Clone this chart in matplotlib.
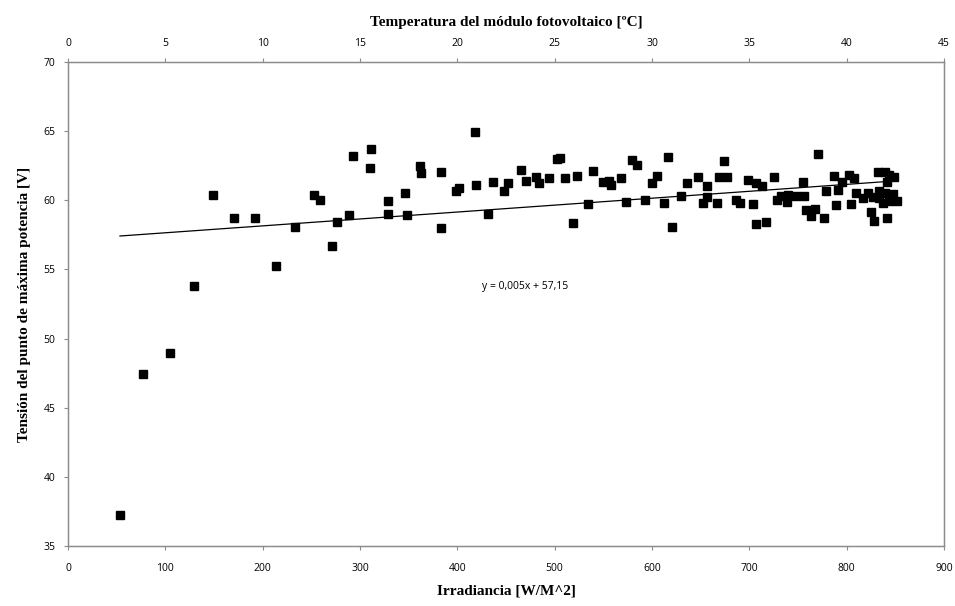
import matplotlib
matplotlib.use("Agg")
import matplotlib.pyplot as plt
import numpy as np

# Irradiancia [W/m^2] y tensión en el punto de máxima potencia [V]
irradiancia = [
    53.4, 77.3, 104.7, 129.1, 148.6, 170.4, 192.0, 213.6, 232.8, 252.6,
    258.4, 271.0, 276.2, 289.2, 292.9, 311.4, 310.1, 328.5, 328.5, 346.0,
    348.0, 361.4, 363.1, 383.3, 383.3, 399.1, 401.4, 417.9, 418.9, 431.5,
    436.7, 448.4, 452.5, 465.1, 470.5, 481.2, 483.9, 494.2, 502.8, 505.4,
    510.6, 518.5, 522.6, 534.2, 539.3, 549.6, 555.7, 557.8, 568.1, 573.6,
    579.1, 584.2, 592.4, 599.9, 604.7, 612.2, 616.3, 620.8, 629.7, 635.8,
    647.5, 652.3, 656.4, 656.4, 667.1, 669.1, 673.5, 676.9, 686.6, 689.9,
    698.2, 703.6, 707.1, 707.1, 712.5, 716.9, 725.6, 728.9, 732.3, 738.5,
    740.2, 747.7, 754.9, 756.4, 758.7, 763.1, 767.2, 771.0, 777.2, 778.9,
    786.8, 788.8, 790.9, 795.0, 802.6, 808.0, 810.1, 816.5, 821.7, 825.2,
    826.8, 828.2, 831.9, 833.0, 833.7, 837.1, 839.5, 839.8, 841.6, 841.9,
    843.9, 843.9, 847.7, 849.1, 851.8, 804.6,
]
tension = [
    37.24, 47.44, 48.95, 53.77, 60.38, 58.70, 58.70, 55.26, 58.10, 60.36,
    60.04, 56.70, 58.43, 58.90, 63.18, 63.68, 62.35, 59.93, 58.99, 60.55,
    58.90, 62.46, 61.98, 62.07, 58.00, 60.70, 60.92, 64.96, 61.10, 58.99,
    61.30, 60.70, 61.25, 62.16, 61.42, 61.68, 61.25, 61.59, 62.96, 63.03,
    61.59, 58.35, 61.78, 59.75, 62.10, 61.30, 61.42, 61.10, 61.63, 59.90,
    62.90, 62.58, 60.04, 61.28, 61.74, 59.80, 63.15, 58.04, 60.28, 61.28,
    61.67, 59.80, 61.05, 60.26, 59.79, 61.70, 62.82, 61.70, 60.04, 59.80,
    61.45, 59.70, 61.28, 58.27, 61.04, 58.43, 61.70, 60.00, 60.28, 59.89,
    60.40, 60.28, 61.35, 60.28, 59.30, 58.87, 59.37, 63.35, 58.70, 60.70,
    61.78, 59.66, 60.72, 61.29, 61.80, 61.63, 60.55, 60.14, 60.55, 59.16,
    60.22, 58.52, 62.07, 60.67, 60.14, 59.78, 62.02, 60.55, 61.30, 58.70,
    61.80, 59.95, 60.46, 61.69, 59.97, 59.76,
]

# línea de tendencia mostrada en el gráfico
pendiente = 0.005
ordenada = 57.15
ecuacion = "y = 0,005x + 57,15"

x_ticks = [0, 100, 200, 300, 400, 500, 600, 700, 800, 900]
y_ticks = [35, 40, 45, 50, 55, 60, 65, 70]
temp_ticks = [0, 5, 10, 15, 20, 25, 30, 35, 40, 45]

gris = "#8c8c8c"
fuente_ticks = "Open Sans"
fuente_titulos = "Liberation Serif"

fig = plt.figure(figsize=(9.55, 6.06), dpi=100)
ax = fig.add_axes([68 / 955, 1 - 546 / 606, (944 - 68) / 955, (546 - 62) / 606])

ax.plot(irradiancia, tension, linestyle="none", marker="s", markersize=5.6,
        color="black", zorder=3)

xr = np.array([min(irradiancia), max(irradiancia)])
ax.plot(xr, pendiente * xr + ordenada, color="black", linewidth=0.9, zorder=2)

ax.text(470, 53.8, ecuacion, fontsize=7.5, family=fuente_ticks,
        ha="center", va="center")

ax.set_xlim(0, 900)
ax.set_ylim(35, 70)
ax.set_xticks(x_ticks)
ax.set_yticks(y_ticks)
ax.tick_params(axis="both", direction="out", length=3, color=gris,
               labelsize=7.5, pad=6)
ax.tick_params(axis="x", pad=9)
for lab in ax.get_xticklabels() + ax.get_yticklabels():
    lab.set_family(fuente_ticks)
for s in ax.spines.values():
    s.set_color(gris)
    s.set_linewidth(1.0)

ax.set_xlabel("Irradiancia [W/M^2]", family=fuente_titulos, fontweight="bold",
              fontsize=11, labelpad=8)
ax.set_ylabel("Tensión del punto de máxima potencia [V]", family=fuente_titulos,
              fontweight="bold", fontsize=11, labelpad=9)

ax2 = ax.twiny()
ax2.set_xlim(0, 45)
ax2.set_xticks(temp_ticks)
ax2.tick_params(axis="x", direction="out", length=3, color=gris,
                labelsize=7.5, pad=6)
for lab in ax2.get_xticklabels():
    lab.set_family(fuente_ticks)
for s in ax2.spines.values():
    s.set_color(gris)
ax2.set_xlabel("Temperatura del módulo fotovoltaico [ºC]", family=fuente_titulos,
               fontweight="bold", fontsize=11, labelpad=9)

fig.savefig("out.png", dpi=100)
